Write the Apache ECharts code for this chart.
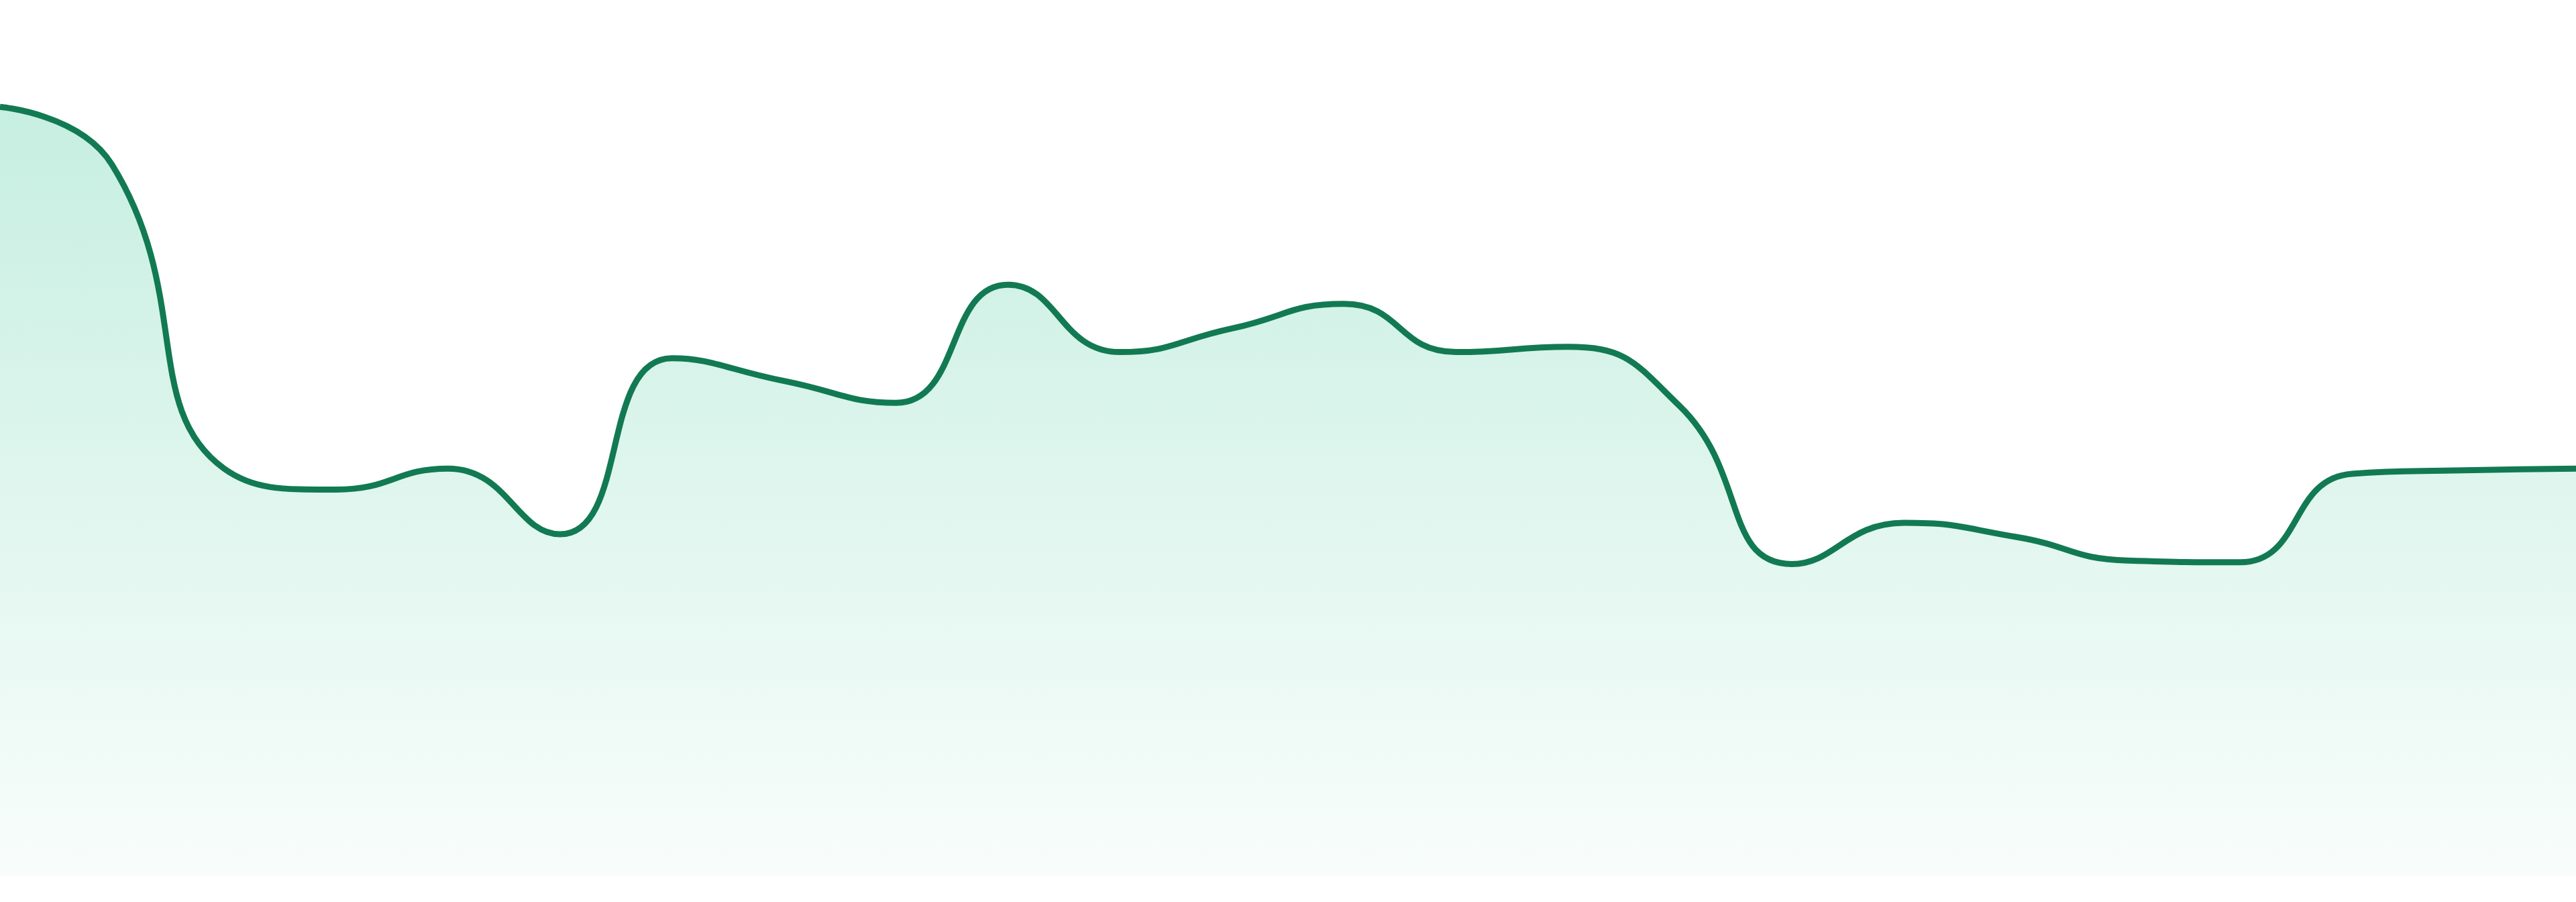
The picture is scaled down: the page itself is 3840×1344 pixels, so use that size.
<!DOCTYPE html>
<html>
<head>
<meta charset="utf-8">
<script src="https://cdn.jsdelivr.net/npm/echarts@6/dist/echarts.min.js"></script>
<style>
html,body{margin:0;padding:0;background:#ffffff;}
#chart{width:3840px;height:1344px;}
</style>
</head>
<body>
<div id="chart"></div>
<script>
const categories = ['1','2','3','4','5','6','7','8','9','10','11','12','13','14','15','16','17','18','19','20','21','22','23','24'];
const values = [87.8, 81.2, 46.5, 44.1, 46.5, 39.0, 59.1, 56.5, 54.0, 67.5, 59.8, 62.5, 65.3, 59.8, 60.4, 53.6, 35.6, 40.3, 38.7, 36.0, 35.8, 45.9, 46.3, 46.5];
const yMin = 0;
const yMax = 100;

const chart = echarts.init(document.getElementById('chart'), null, {renderer: 'canvas'});
chart.setOption({
  animation: false,
  backgroundColor: '#ffffff',
  grid: {left: 0, right: 0, top: 0, bottom: 39},
  xAxis: {
    type: 'category',
    data: categories,
    boundaryGap: false,
    show: false
  },
  yAxis: {
    type: 'value',
    min: yMin,
    max: yMax,
    show: false,
    splitLine: {show: false}
  },
  series: [{
    type: 'line',
    data: values,
    smooth: true,
    symbol: 'none',
    lineStyle: {color: '#127a52', width: 9},
    areaStyle: {
      color: new echarts.graphic.LinearGradient(0, 0, 0, 1, [
        {offset: 0, color: 'rgba(16,185,129,0.34)'},
        {offset: 1, color: 'rgba(16,185,129,0.04)'}
      ])
    }
  }]
});
</script>
</body>
</html>
